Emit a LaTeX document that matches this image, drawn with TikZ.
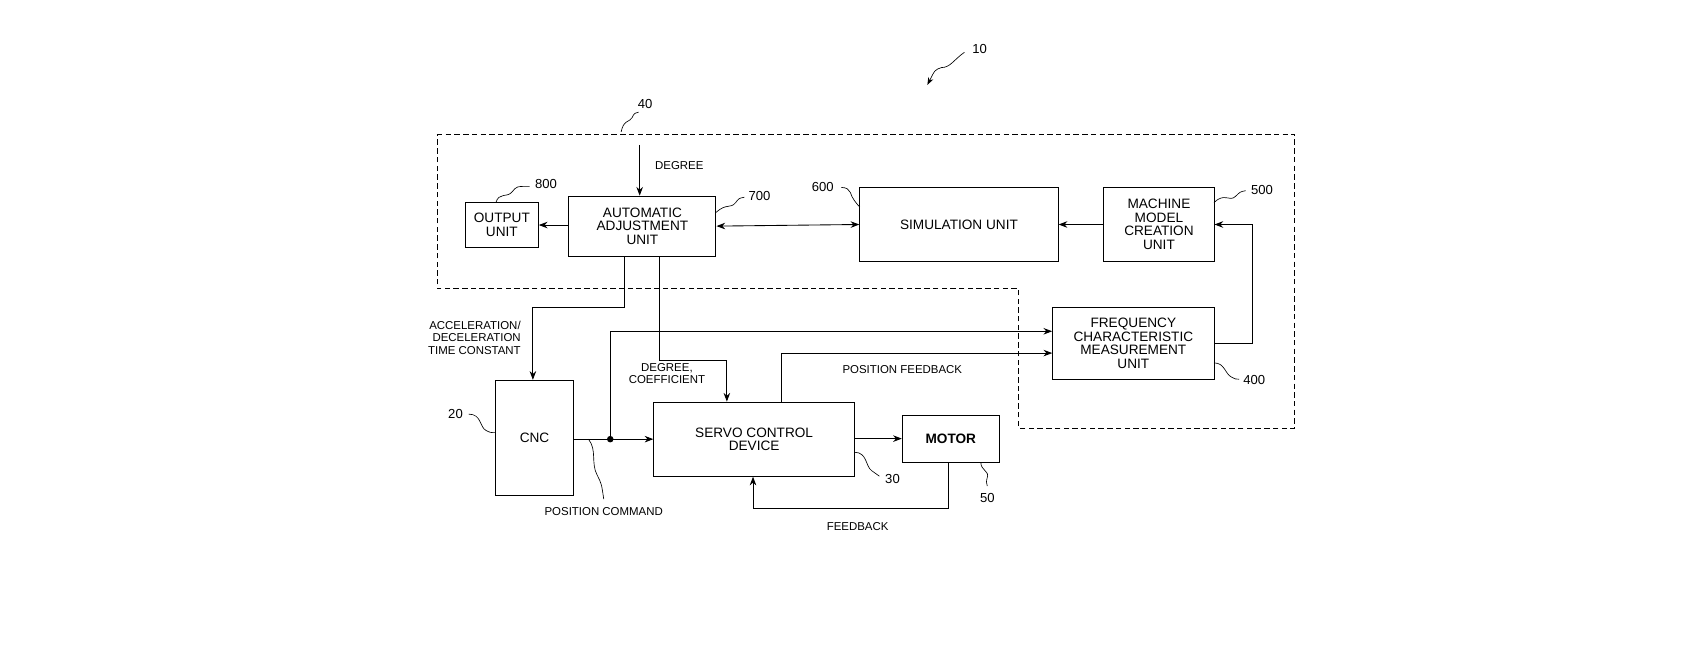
\documentclass[tikz,border=0pt]{standalone}
\usepackage{fontspec}
\setmainfont{Liberation Sans}
\usetikzlibrary{arrows.meta,decorations.pathmorphing}
\begin{document}
\begin{tikzpicture}[x=1pt,y=-1pt,
  box/.style={draw,line width=0.9pt,inner sep=0pt,align=center,font=\fontsize{12.5}{12.5}\selectfont},
  lbl/.style={font=\fontsize{12}{13}\selectfont,inner sep=1pt},
  sm/.style={font=\fontsize{10.5}{11.5}\selectfont,inner sep=1pt},
  ln/.style={line width=0.8pt},
  arr/.style={ln,-{Stealth[length=8pt,width=6pt]}},
  sq/.style={line width=0.6pt}]
\useasboundingbox (0,0) rectangle (1560,596);
\draw[ln,dash pattern=on 5pt off 3pt] (401,123)--(1188,123)--(1188,393)--(935,393)--(935,265)--(401,265)--cycle;
\node[box,minimum width=67pt,minimum height=41pt] (out) at (460.5,206.5) {OUTPUT\\UNIT};
\node[box,minimum width=135pt,minimum height=55pt] (aa) at (589.5,207.5) {AUTOMATIC\\ADJUSTMENT\\UNIT};
\node[box,minimum width=182pt,minimum height=68pt] (sim) at (880,206) {SIMULATION UNIT};
\node[box,minimum width=101pt,minimum height=68pt] (mm) at (1063.5,206) {MACHINE\\MODEL\\CREATION\\UNIT};
\node[box,minimum width=148pt,minimum height=66pt] (fr) at (1040,315) {FREQUENCY\\CHARACTERISTIC\\MEASUREMENT\\UNIT};
\node[box,minimum width=71pt,minimum height=106pt] (cnc) at (490.5,402) {CNC};
\node[box,minimum width=184pt,minimum height=68pt] (sv) at (692,403) {SERVO CONTROL\\DEVICE};
\node[box,minimum width=89pt,minimum height=43pt] (mo) at (872.5,402.5) {\textbf{MOTOR}};
\coordinate (dg) at (587,133);
\coordinate (dot) at (560,403);
\fill (dot) circle (3pt);
% connectors
\draw[arr] (dg) -- (aa.north -| dg);
\node[sm,anchor=west] (tdeg) at (600,152) {DEGREE};
\draw[arr] (aa.west |- out.east) -- (out.east);
\draw[ln,{Stealth[length=8pt,width=6pt]}-{Stealth[length=8pt,width=6pt]}] (aa.east) -- (sim.west);
\draw[arr] (mm.west) -- (sim.east);
\draw[arr] (fr.east) -- ++(35,0) |- (mm.east);
\draw[arr] (aa.south -| 573,0) |- (489,282) -- (cnc.north -| 489,0);
\node[sm,align=right,anchor=east] (tacc) at (479,310) {ACCELERATION/\\DECELERATION\\TIME CONSTANT};
\draw[arr] (aa.south -| 605,0) |- (667,331) -- (sv.north -| 667,0);
\node[sm,align=center] (tdc) at (612,343) {DEGREE,\\COEFFICIENT};
\draw[arr] (cnc.east |- dot) -- (sv.west |- dot);
\draw[arr] (dot) |- (fr.west |- 0,304);
\draw[arr] (sv.north -| 717,0) |- (fr.west |- 0,324);
\node[sm] (tpf) at (828,339) {POSITION FEEDBACK};
\draw[arr] (sv.east |- mo.west) -- (mo.west);
\draw[arr] (mo.south -| 870,0) |- (691,467) -- (sv.south -| 691,0);
\node[sm] (tfb) at (787,483) {FEEDBACK};
\node[sm] (tpc) at (554,469) {POSITION COMMAND};
% reference numerals
\node[lbl] (n10) at (899,45) {10};
\draw[sq,-{Stealth[length=7pt,width=5pt]}] (885,48) .. controls (875,55) and (872,62) .. (864,62) .. controls (858,64) .. (851,78);
\node[lbl] (n40) at (592,95) {40};
\draw[sq] (570,121) .. controls (572,110) and (578,112) .. (580,108) .. controls (582,104) .. (586,103);
\node[lbl] (n800) at (501,169) {800};
\draw[sq] (455,186) .. controls (458,176) and (465,182) .. (470,176) .. controls (474,171) .. (486,171);
\node[lbl] (n700) at (697,180) {700};
\draw[sq] (657,195) .. controls (667,186) and (670,192) .. (675,186) .. controls (678,182) .. (683,181);
\node[lbl] (n600) at (755,172) {600};
\draw[sq] (772,172) .. controls (782,172) and (780,180) .. (784,184) .. controls (787,188) .. (789,190);
\node[lbl] (n500) at (1158,174) {500};
\draw[sq] (1114,186) .. controls (1124,176) and (1128,186) .. (1134,180) .. controls (1138,176) .. (1143,175);
\node[lbl] (n400) at (1151,349) {400};
\draw[sq] (1114,333) .. controls (1124,333) and (1124,343) .. (1130,346) .. controls (1134,348) .. (1137,348);
\node[lbl] (n20) at (418,380) {20};
\draw[sq] (430,380) .. controls (442,380) and (440,392) .. (446,395) .. controls (450,397) .. (455,397);
\node[lbl] (n30) at (819,440) {30};
\draw[sq] (784,415) .. controls (796,415) and (794,428) .. (800,432) .. controls (803,435) .. (807,437);
\node[lbl] (n50) at (906,457) {50};
\draw[sq] (900,424) .. controls (900,432) and (908,432) .. (906,438) .. controls (905,442) .. (906,446);
\draw[sq] (540,403) .. controls (548,413) and (542,425) .. (548,436) .. controls (552,444) .. (554,458);
\end{tikzpicture}
\end{document}
